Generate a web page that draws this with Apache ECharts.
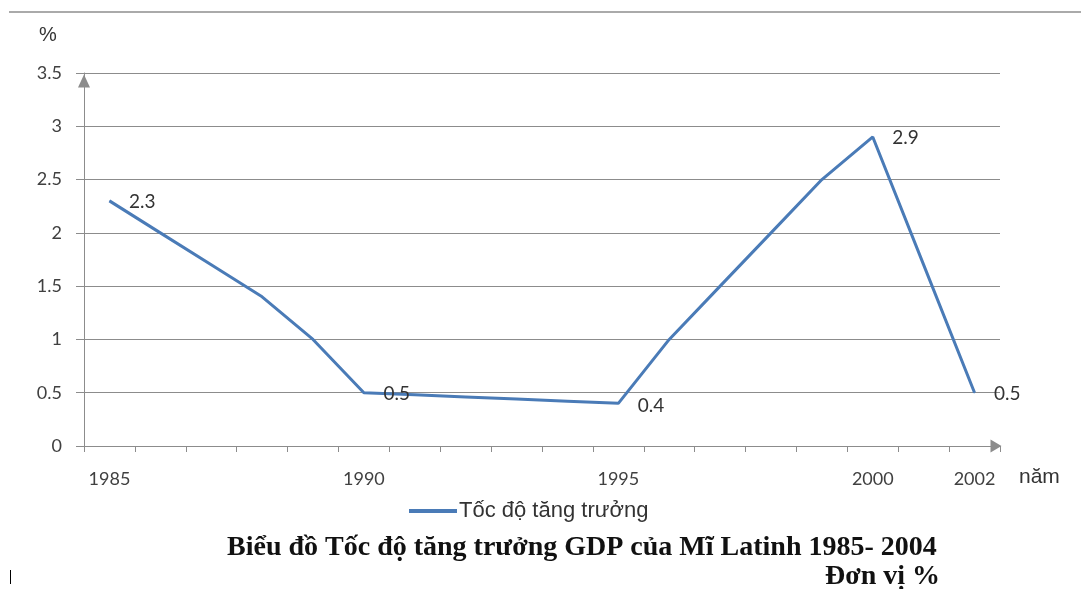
<!DOCTYPE html>
<html>
<head>
<meta charset="utf-8">
<script src="https://cdn.jsdelivr.net/npm/echarts@6/dist/echarts.min.js"></script>
<style>
html,body{margin:0;padding:0;background:#fff;}
#chart{width:1081px;height:589px;}
</style>
</head>
<body>
<div id="chart"></div>
<script>
// ---- data ----
const years = ['1985','1986','1987','1988','1989','1990','1991','1992','1993','1994','1995','1996','1997','1998','1999','2000','2001','2002'];
const growth = [2.3, 2.0, 1.7, 1.4, 1.0, 0.5, 0.48, 0.46, 0.44, 0.42, 0.4, 1.0, 1.5, 2.0, 2.5, 2.9, 1.7, 0.5];
const shownYearLabels = ['1985','1990','1995','2000','2002'];
const labeledYears = ['1985','1990','1995','2000','2002'];
const seriesName = 'Tốc độ tăng trưởng';
const titleText = 'Biểu đồ Tốc độ tăng trưởng GDP của Mĩ Latinh 1985- 2004';
const unitText = 'Đơn vị %';
const yAxisName = '%';
const xAxisName = 'năm';

const chart = echarts.init(document.getElementById('chart'), null, {renderer:'canvas'});
const axisGray = '#8c8c8c';
const lineBlue = '#4a7bb7';
const numFont = 'Lato, "Liberation Sans", sans-serif';
const sansFont = '"Liberation Sans", Arial, sans-serif';
const serifFont = '"Liberation Serif", "Times New Roman", serif';

const seriesData = growth.map((v, i) => {
  const show = labeledYears.includes(years[i]);
  return {
    value: v,
    label: {
      show: show,
      offset: years[i] === '1995' ? [0, 3] : [0, 1]
    }
  };
});

chart.setOption({
  animation: false,
  backgroundColor: '#fff',
  grid: { left: 84, right: 81, top: 73, bottom: 143 },
  legend: {
    data: [seriesName],
    left: 404,
    top: 495,
    icon: 'rect',
    itemWidth: 48,
    itemHeight: 4,
    itemGap: 5,
    textStyle: { fontFamily: sansFont, fontSize: 22, color: '#333', padding: [0, 0, 0, -3] }
  },
  xAxis: {
    type: 'category',
    data: years,
    boundaryGap: true,
    axisLine: { show: true, lineStyle: { color: axisGray, width: 1 }, symbol: ['none', 'triangle'], symbolSize: [13, 11], symbolOffset: [0, -4] },
    axisTick: { show: true, interval: 0, length: 6, lineStyle: { color: axisGray } },
    axisLabel: {
      interval: 0,
      margin: 24,
      fontFamily: numFont,
      fontSize: 18,
      color: '#404040',
      formatter: v => shownYearLabels.includes(v) ? v : ''
    },
    splitLine: { show: false }
  },
  yAxis: {
    type: 'value',
    min: 0,
    max: 3.5,
    interval: 0.5,
    axisLine: { show: true, lineStyle: { color: axisGray, width: 1 }, symbol: ['none', 'triangle'], symbolSize: [12, 13], symbolOffset: [0, -8] },
    axisTick: { show: true, length: 8, lineStyle: { color: axisGray } },
    axisLabel: { margin: 22, fontFamily: numFont, fontSize: 18, color: '#404040' },
    splitLine: { show: true, lineStyle: { color: axisGray, width: 1 } }
  },
  series: [{
    name: seriesName,
    type: 'line',
    data: seriesData,
    symbol: 'circle',
    symbolSize: 1,
    showSymbol: true,
    itemStyle: { color: lineBlue },
    lineStyle: { color: lineBlue, width: 3 },
    label: {
      position: 'right',
      distance: 19,
      fontFamily: numFont,
      fontSize: 19,
      color: '#333'
    }
  }],
  graphic: [
    { type: 'line', shape: { x1: 9, y1: 12, x2: 1081, y2: 12 }, style: { stroke: '#aaaaaa', lineWidth: 2 } },
    { type: 'text', x: 39, y: 35, style: { text: yAxisName, fontFamily: sansFont, fontSize: 20, fill: '#333', verticalAlign: 'middle' } },
    { type: 'text', x: 1019, y: 477, style: { text: xAxisName, fontFamily: sansFont, fontSize: 21, fill: '#333', verticalAlign: 'middle' } },
    { type: 'text', x: 227, y: 548, style: { text: titleText, fontFamily: serifFont, fontWeight: 'bold', fontSize: 28, fill: '#111', verticalAlign: 'middle' } },
    { type: 'text', x: 940, y: 577, style: { text: unitText, fontFamily: serifFont, fontWeight: 'bold', fontSize: 28, fill: '#111', align: 'right', verticalAlign: 'middle' } },
    { type: 'line', shape: { x1: 10.5, y1: 570, x2: 10.5, y2: 584 }, style: { stroke: '#000', lineWidth: 1 } }
  ]
});
</script>
</body>
</html>
